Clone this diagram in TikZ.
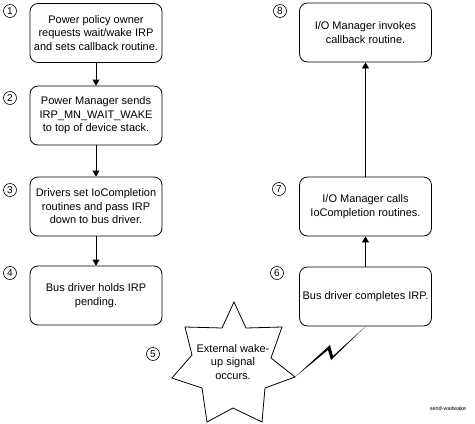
\documentclass[tikz,border=0pt]{standalone}
\usepackage{fontspec}
\setmainfont{Liberation Sans}
\usetikzlibrary{arrows.meta}
\begin{document}
\begin{tikzpicture}[x=1pt,y=-1pt,
  box/.style={draw, rounded corners=8pt, minimum width=132pt, minimum height=59pt,
    align=center, font=\fontsize{11}{13.5}\selectfont, inner sep=2pt, line width=0.8pt},
  num/.style={draw, circle, minimum size=13pt, inner sep=0pt,
    font=\fontsize{10}{10}\selectfont, line width=0.6pt},
  arr/.style={-{Triangle[length=6pt,width=7pt]}, line width=0.8pt},
  startext/.style={align=center, font=\fontsize{11}{13.5}\selectfont, inner sep=0pt}]
\useasboundingbox (0,0) rectangle (475,424);
% left column
\node[box] (b1) at (96,33) {Power policy owner\\requests wait/wake IRP\\and sets callback routine.};
\node[box] (b2) at (96,115.5) {Power Manager sends\\IRP\_MN\_WAIT\_WAKE\hspace*{30pt}\\to top of device stack.};
\node[box] (b3) at (96,206.5) {Drivers set IoCompletion\\routines and pass IRP\\down to bus driver.};
\node[box] (b4) at (96,295.5) {Bus driver holds IRP\\pending.};
% right column
\node[box] (b8) at (365.5,32.5) {I/O Manager invokes\\callback routine.};
\node[box] (b7) at (365.5,206.5) {I/O Manager calls\\IoCompletion routines.};
\node[box] (b6) at (365.5,296.5) {Bus driver completes IRP.};
% numbers
\node[num] (n1) at (10,11) {1};
\node[num] (n2) at (10,98) {2};
\node[num] (n3) at (10,190) {3};
\node[num] (n4) at (10,273) {4};
\node[num] (n5) at (153,354) {5};
\node[num] (n6) at (277,273) {6};
\node[num] (n7) at (279,189) {7};
\node[num] (n8) at (280,11) {8};
% arrows
\draw[arr] (b1) -- (b2);
\draw[arr] (b2) -- (b3);
\draw[arr] (b3) -- (b4);
\draw[arr] (b6) -- (b7);
\draw[arr] (b7) -- (b8);
% star
\draw[line width=0.8pt, line join=miter] (234,302) -- (246,328) -- (282,327) -- (271,358) -- (295,377)
  -- (265,388) -- (262,422) -- (233,408) -- (207,422) -- (202,388) -- (172,378)
  -- (192,355) -- (185,327) -- (222,328) -- cycle;
\coordinate (sp) at (295,377);
\node[startext] (st) at (233,362) {External wake-\\up signal\\occurs.};
% lightning
\fill (sp) -- (330,345) -- (333,356) -- (b6.south) -- (331,360) -- (328,350) -- cycle;
% label
\node[font=\fontsize{5.5}{6}\selectfont, inner sep=0pt] (lbl) at (448,409) {send-waitwake};
\end{tikzpicture}
\end{document}
